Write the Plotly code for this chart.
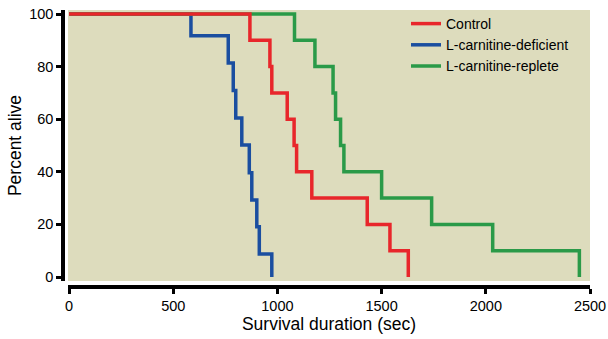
import plotly.graph_objects as go

# ---- data ----
series_names = ["Control", "L-carnitine-deficient", "L-carnitine-replete"]

control_t = [0, 868, 964, 973, 1047, 1080, 1092, 1165, 1431, 1540, 1628]
control_s = [100, 90, 80, 70, 60, 50, 40, 30, 20, 10, 0]

deficient_t = [0, 585, 764, 788, 800, 829, 865, 877, 901, 913, 973]
deficient_s = [100, 91.7, 81.4, 70.9, 60.5, 50.2, 39.6, 29.3, 19.1, 8.7, 0]

replete_t = [0, 1082, 1180, 1267, 1279, 1303, 1319, 1500, 1740, 2033, 2449]
replete_s = [100, 90, 80, 70, 60, 50, 40, 30, 20, 10, 0]

x_ticks = [0, 500, 1000, 1500, 2000, 2500]
y_ticks = [0, 20, 40, 60, 80, 100]

colors = {"Control": "#E8262B", "L-carnitine-deficient": "#1A4EA0", "L-carnitine-replete": "#2A9A48"}

W, H = 608, 339
FONT = "Arial, Liberation Sans, Helvetica, sans-serif"

fig = go.Figure()
# draw blue and green first, red on top; legend order via legendrank
fig.add_trace(go.Scatter(x=deficient_t, y=deficient_s, mode="lines", line_shape="hv",
                         name=series_names[1], legendrank=2,
                         line=dict(color=colors[series_names[1]], width=3.5)))
fig.add_trace(go.Scatter(x=replete_t, y=replete_s, mode="lines", line_shape="hv",
                         name=series_names[2], legendrank=3,
                         line=dict(color=colors[series_names[2]], width=3.5)))
fig.add_trace(go.Scatter(x=control_t, y=control_s, mode="lines", line_shape="hv",
                         name=series_names[0], legendrank=1,
                         line=dict(color=colors[series_names[0]], width=3.5)))

# plot area (pixels): x 68..590, y 10..281 (from top)
x_dom = [68 / W, 590 / W]
y_dom = [(H - 281) / H, (H - 10) / H]

fig.update_layout(
    width=W, height=H,
    margin=dict(l=0, r=0, t=0, b=0, autoexpand=False),
    paper_bgcolor="white",
    plot_bgcolor="#DDDCBD",
    font=dict(family=FONT, color="black", size=14),
    showlegend=True,
    legend=dict(x=406 / W, y=(H - 8) / H, xanchor="left", yanchor="top",
                bgcolor="rgba(0,0,0,0)", font=dict(size=14, family=FONT),
                tracegroupgap=0, itemwidth=30, traceorder="normal"),
    xaxis=dict(domain=x_dom, range=[-5, 2500], anchor="free", position=(H - 287) / H,
               tickmode="array", tickvals=x_ticks, ticktext=[str(v) for v in x_ticks],
               showline=True, linecolor="black", linewidth=3.5,
               ticks="outside", ticklen=5, tickwidth=2.5, tickcolor="black",
               showgrid=False, zeroline=False, automargin=False,
               tickfont=dict(size=14.5, family=FONT),
               title=dict(text="Survival duration (sec)", font=dict(size=17.5, family=FONT), standoff=4)),
    yaxis=dict(domain=y_dom, range=[-1.52, 101.52], anchor="free", position=63 / W,
               tickmode="array", tickvals=y_ticks, ticktext=[str(v) for v in y_ticks],
               showline=True, linecolor="black", linewidth=3.5,
               ticks="outside", ticklen=5, tickwidth=2.5, tickcolor="black",
               showgrid=False, zeroline=False, automargin=False,
               tickfont=dict(size=14.5, family=FONT),
               title=dict(text="Percent alive", font=dict(size=17.5, family=FONT), standoff=2)),
)

fig.write_html("out.html")
